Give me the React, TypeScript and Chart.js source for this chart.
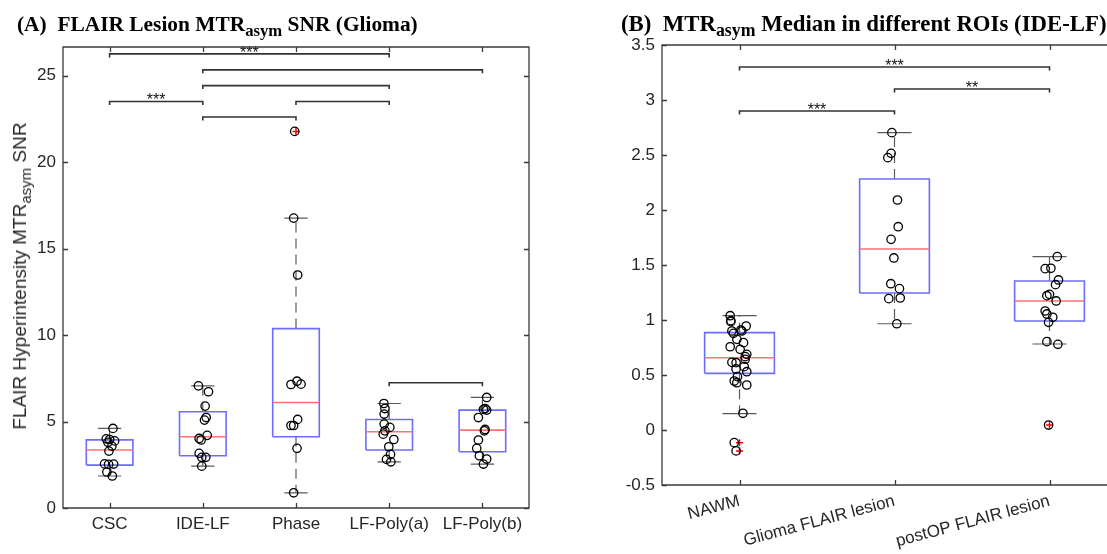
import React, { useEffect, useRef } from 'react';
import { Chart, registerables } from 'chart.js';

Chart.register(...registerables);

// ---------------- Panel A data ----------------
const categoriesA = ['CSC', 'IDE-LF', 'Phase', 'LF-Poly(a)', 'LF-Poly(b)'];
const yTicksA = [0, 5, 10, 15, 20, 25];

const q1A = [2.48, 3.02, 4.12, 3.35, 3.25];
const medianA = [3.35, 4.12, 6.1, 4.41, 4.5];
const q3A = [3.94, 5.56, 10.37, 5.12, 5.66];
const whiskerLowA = [1.85, 2.42, 0.88, 2.67, 2.54];
const whiskerHighA = [4.6, 7.06, 16.76, 6.04, 6.39];

const cscValues = [4.6, 4.0, 3.96, 3.88, 3.8, 3.58, 3.29, 2.55, 2.52, 2.54, 2.08, 1.85];
const cscJitter = [0.036, -0.036, 0, 0.054, -0.018, 0.025, -0.007, -0.054, -0.011, 0.043, -0.029, 0.029];
const ideValues = [7.06, 6.72, 5.89, 5.23, 5.08, 4.2, 4.02, 3.93, 3.16, 2.93, 2.93, 2.42];
const ideJitter = [-0.047, 0.061, 0.025, 0.036, 0.018, 0.047, -0.039, -0.018, -0.039, -0.011, 0.032, -0.011];
const phaseValues = [21.77, 16.76, 13.47, 7.33, 7.16, 7.14, 5.12, 4.77, 4.77, 3.45, 0.88];
const phaseJitter = [-0.014, -0.025, 0.018, 0.011, 0.054, -0.054, 0.018, -0.054, -0.025, 0.011, -0.025];
const polyAValues = [6.04, 5.75, 5.43, 4.85, 4.66, 4.46, 4.27, 3.96, 3.54, 3.1, 2.81, 2.67];
const polyAJitter = [-0.057, -0.046, -0.054, -0.054, 0.007, -0.046, -0.064, 0.05, -0.004, 0.014, -0.029, 0.018];
const polyBValues = [6.39, 5.75, 5.7, 5.66, 5.23, 4.54, 4.46, 3.93, 3.45, 3.02, 2.83, 2.54];
const polyBJitter = [0.046, 0.029, 0.011, 0.046, -0.043, 0.029, 0.021, -0.043, -0.061, -0.032, 0.046, 0.011];

const outlierCatA = [3];
const outlierValA = [21.77];

// brackets: [from category, to category, level]
const bracketsA = [
  [1, 4, 26.25],
  [2, 5, 25.33],
  [2, 4, 24.42],
  [1, 2, 23.5],
  [3, 4, 23.5],
  [2, 3, 22.6],
  [4, 5, 7.24],
];
const starsA = [
  { x: 2.5, y: 26.25, text: '***' },
  { x: 1.5, y: 23.5, text: '***' },
];

// ---------------- Panel B data ----------------
const categoriesB = ['NAWM', 'Glioma FLAIR lesion', 'postOP FLAIR lesion'];
const yTicksB = [-0.5, 0, 0.5, 1, 1.5, 2, 2.5, 3, 3.5];

const q1B = [0.515, 1.245, 0.991];
const medianB = [0.657, 1.645, 1.173];
const q3B = [0.885, 2.282, 1.355];
const whiskerLowB = [0.148, 0.966, 0.782];
const whiskerHighB = [1.039, 2.703, 1.576];

const nawmValues = [1.039, 0.994, 0.985, 0.945, 0.909, 0.9, 0.9, 0.879, 0.824, 0.794, 0.757, 0.733, 0.688, 0.667, 0.643, 0.615, 0.612, 0.576, 0.555, 0.53, 0.485, 0.445, 0.43, 0.409, 0.152, -0.115, -0.19];
const nawmJitter = [-0.06, -0.056, -0.056, 0.043, 0.009, -0.049, 0.015, -0.039, -0.017, 0.026, -0.06, 0.004, 0.047, 0.037, 0.037, -0.049, -0.022, 0.03, -0.022, 0.047, -0.013, -0.034, -0.017, 0.047, 0.022, -0.034, -0.022];
const gliomaValues = [2.703, 2.515, 2.476, 2.091, 1.848, 1.733, 1.564, 1.33, 1.285, 1.2, 1.194, 0.966];
const gliomaJitter = [-0.017, -0.022, -0.043, 0.019, 0.024, -0.022, -0.004, -0.024, 0.032, 0.037, -0.037, 0.015];
const postopValues = [1.576, 1.47, 1.467, 1.364, 1.321, 1.233, 1.221, 1.173, 1.082, 1.055, 1.025, 0.979, 0.803, 0.779, 0.045];
const postopJitter = [0.05, 0.009, -0.028, 0.058, 0.039, 0, -0.017, 0.043, -0.028, -0.017, 0.021, -0.006, -0.017, 0.054, -0.006];

const outlierCatB = [1, 1, 3];
const outlierValB = [-0.115, -0.19, 0.045];

const bracketsB = [
  [1, 3, 3.3],
  [2, 3, 3.1],
  [1, 2, 2.9],
];
const starsB = [
  { x: 2, y: 3.3, text: '***' },
  { x: 2.5, y: 3.1, text: '**' },
  { x: 1.5, y: 2.9, text: '***' },
];

// ---------------- helpers ----------------
const FONT = '"Liberation Sans", Arial, Helvetica, sans-serif';
const TEXT = '#262626';

type P = { x: number; y: number | null };

function jittered(groups: number[][], jitters: number[][]): P[] {
  const out: P[] = [];
  groups.forEach((vals, i) => vals.forEach((v, j) => out.push({ x: i + 1 + jitters[i][j], y: v })));
  return out;
}
function rects(lo: number[], hi: number[], w: number): P[] {
  const out: P[] = [];
  lo.forEach((l, i) => {
    const c = i + 1, h = hi[i];
    out.push({ x: c - w / 2, y: l }, { x: c + w / 2, y: l }, { x: c + w / 2, y: h }, { x: c - w / 2, y: h }, { x: c - w / 2, y: l }, { x: c, y: null });
  });
  return out;
}
function hLines(vals: number[], w: number): P[] {
  const out: P[] = [];
  vals.forEach((v, i) => out.push({ x: i + 1 - w / 2, y: v }, { x: i + 1 + w / 2, y: v }, { x: i + 1, y: null }));
  return out;
}
function vLines(from: number[], to: number[]): P[] {
  const out: P[] = [];
  from.forEach((f, i) => out.push({ x: i + 1, y: f }, { x: i + 1, y: to[i] }, { x: i + 1, y: null }));
  return out;
}
function bracketPath(list: number[][], tip: number): P[] {
  const out: P[] = [];
  list.forEach(([a, b, lv]) => out.push({ x: a, y: lv - tip }, { x: a, y: lv }, { x: b, y: lv }, { x: b, y: lv - tip }, { x: a, y: null }));
  return out;
}

const framePlugin = {
  id: 'matlabFrame',
  afterDraw(chart: any, _args: any, opts: any) {
    const { ctx, chartArea: a, scales } = chart;
    ctx.save();
    ctx.strokeStyle = opts.color || '#3a3a3a';
    ctx.lineWidth = opts.width || 1.3;
    ctx.beginPath();
    ctx.rect(a.left, a.top, a.right - a.left, a.bottom - a.top);
    const tl = 5;
    for (const t of scales.x.ticks) {
      const px = Math.round(scales.x.getPixelForValue(t.value)) + 0.5;
      ctx.moveTo(px, a.bottom); ctx.lineTo(px, a.bottom - tl);
      ctx.moveTo(px, a.top); ctx.lineTo(px, a.top + tl);
    }
    for (const t of scales.y.ticks) {
      const py = Math.round(scales.y.getPixelForValue(t.value)) + 0.5;
      ctx.moveTo(a.left, py); ctx.lineTo(a.left + tl, py);
      ctx.moveTo(a.right, py); ctx.lineTo(a.right - tl, py);
    }
    ctx.stroke();
    ctx.restore();
  },
};

const starsPlugin = {
  id: 'sigStars',
  afterDatasetsDraw(chart: any, _args: any, opts: any) {
    const { ctx, scales } = chart;
    ctx.save();
    ctx.fillStyle = '#111';
    ctx.font = `16px ${FONT}`;
    ctx.textAlign = 'center';
    ctx.textBaseline = 'alphabetic';
    for (const s of opts.items || []) {
      ctx.fillText(s.text, scales.x.getPixelForValue(s.x), scales.y.getPixelForValue(s.y) + 4);
    }
    ctx.restore();
  },
};

function buildConfig(p: {
  cats: string[]; yTicks: number[]; ymin: number; ymax: number;
  groups: number[][]; jitters: number[][];
  q1: number[]; med: number[]; q3: number[]; wLo: number[]; wHi: number[];
  outCat: number[]; outVal: number[]; brackets: number[][]; tip: number; stars: any[];
  boxW: number; capW: number; yWidth: number; xHeight: number; padRight: number; padTop: number; rotate: number;
}) {
  const lineDs = (label: string, data: P[], color: string, width: number, dash: number[] = []) => ({
    label, data, showLine: true, pointRadius: 0, pointHoverRadius: 0, borderColor: color, borderWidth: width,
    borderDash: dash, spanGaps: false, fill: false, tension: 0,
  });
  return {
    type: 'scatter',
    data: {
      datasets: [
        {
          label: 'points', data: jittered(p.groups, p.jitters), pointRadius: 4.2, pointBorderColor: '#000',
          pointBackgroundColor: 'rgba(0,0,0,0)', pointBorderWidth: 1.3, showLine: false,
        },
        {
          label: 'outliers', data: p.outCat.map((c, i) => ({ x: c, y: p.outVal[i] })), pointStyle: 'cross',
          pointRadius: 3.5, pointBorderColor: '#ff0000', pointBorderWidth: 1.5, showLine: false,
        },
        lineDs('median', hLines(p.med, p.boxW), '#ff7272', 1.6),
        lineDs('box', rects(p.q1, p.q3, p.boxW), '#6c6cff', 1.6),
        lineDs('whiskerUp', vLines(p.q3, p.wHi), '#5a5a5a', 1.2, [10, 6]),
        lineDs('whiskerDown', vLines(p.q1, p.wLo), '#5a5a5a', 1.2, [10, 6]),
        lineDs('capHigh', hLines(p.wHi, p.capW), '#5a5a5a', 1.2),
        lineDs('capLow', hLines(p.wLo, p.capW), '#5a5a5a', 1.2),
        lineDs('brackets', bracketPath(p.brackets, p.tip), '#333333', 1.6),
      ],
    },
    options: {
      responsive: false,
      animation: false,
      events: [],
      layout: { padding: { left: 0, right: p.padRight, top: p.padTop, bottom: 0 } },
      plugins: {
        legend: { display: false },
        tooltip: { enabled: false },
        title: { display: false },
        matlabFrame: { color: '#3a3a3a', width: 1.3 },
        sigStars: { items: p.stars },
      },
      scales: {
        x: {
          type: 'linear', min: 0.5, max: p.cats.length + 0.5,
          afterBuildTicks: (s: any) => { s.ticks = p.cats.map((_, i) => ({ value: i + 1 })); },
          afterFit: (s: any) => { s.height = p.xHeight; },
          grid: { display: false, drawTicks: false },
          border: { display: false },
          ticks: {
            autoSkip: false, minRotation: p.rotate, maxRotation: p.rotate, padding: 6,
            color: TEXT, font: { family: FONT, size: 17 },
            callback: (v: number) => p.cats[Math.round(v) - 1] ?? '',
          },
        },
        y: {
          type: 'linear', min: p.ymin, max: p.ymax,
          afterBuildTicks: (s: any) => { s.ticks = p.yTicks.map((v) => ({ value: v })); },
          afterFit: (s: any) => { s.width = p.yWidth; },
          grid: { display: false, drawTicks: false },
          border: { display: false },
          ticks: { padding: 7, color: TEXT, font: { family: FONT, size: 17 }, callback: (v: number) => String(v) },
        },
      },
    },
    plugins: [framePlugin, starsPlugin],
  };
}

function ChartCanvas({ config, left, width, height }: { config: () => any; left: number; width: number; height: number }) {
  const ref = useRef<HTMLCanvasElement>(null);
  useEffect(() => {
    const chart = new Chart(ref.current as HTMLCanvasElement, config());
    return () => chart.destroy();
  }, []);
  return (
    <canvas ref={ref} width={width} height={height}
      style={{ position: 'absolute', left, top: 0, width, height, display: 'block' }} />
  );
}

const configA = () => buildConfig({
  cats: categoriesA, yTicks: yTicksA, ymin: 0, ymax: 26.65,
  groups: [cscValues, ideValues, phaseValues, polyAValues, polyBValues],
  jitters: [cscJitter, ideJitter, phaseJitter, polyAJitter, polyBJitter],
  q1: q1A, med: medianA, q3: q3A, wLo: whiskerLowA, wHi: whiskerHighA,
  outCat: outlierCatA, outVal: outlierValA, brackets: bracketsA, tip: 0.2, stars: starsA,
  boxW: 0.5, capW: 0.25, yWidth: 63, xHeight: 46, padRight: 31, padTop: 47, rotate: 0,
});

const configB = () => buildConfig({
  cats: categoriesB, yTicks: yTicksB, ymin: -0.5, ymax: 3.5,
  groups: [nawmValues, gliomaValues, postopValues],
  jitters: [nawmJitter, gliomaJitter, postopJitter],
  q1: q1B, med: medianB, q3: q3B, wLo: whiskerLowB, wHi: whiskerHighB,
  outCat: outlierCatB, outVal: outlierValB, brackets: bracketsB, tip: 0.032, stars: starsB,
  boxW: 0.45, capW: 0.22, yWidth: 102, xHeight: 69, padRight: 13, padTop: 45, rotate: 15,
});

const titleStyle: React.CSSProperties = {
  position: 'absolute', top: 13, fontFamily: '"Liberation Serif", "Times New Roman", serif', fontWeight: 'bold',
  lineHeight: '22px', whiteSpace: 'pre', color: '#000',
};
const subStyle: React.CSSProperties = { fontSize: '0.78em', position: 'relative', top: 5, verticalAlign: 'baseline' };

export default function App() {
  return (
    <div style={{ position: 'fixed', left: 0, top: 0, width: 1107, height: 554, overflow: 'hidden', background: '#fff' }}>
      <ChartCanvas config={configA} left={0} width={560} height={554} />
      <ChartCanvas config={configB} left={560} width={580} height={554} />
      <div style={{ ...titleStyle, left: 17, fontSize: 21.4 }}>
        (A)  FLAIR Lesion MTR<span style={subStyle}>asym</span> SNR (Glioma)
      </div>
      <div style={{ ...titleStyle, left: 621, fontSize: 22.8 }}>
        (B)  MTR<span style={subStyle}>asym</span> Median in different ROIs (IDE-LF)
      </div>
      <div style={{
        position: 'absolute', left: 20.4, top: 276, transform: 'translate(-50%, -50%) rotate(-90deg)',
        font: `19px ${FONT}`, lineHeight: '19px', whiteSpace: 'pre', color: TEXT,
      }}>
        FLAIR Hyperintensity MTR<span style={{ fontSize: 15, position: 'relative', top: 5 }}>asym</span> SNR
      </div>
    </div>
  );
}
